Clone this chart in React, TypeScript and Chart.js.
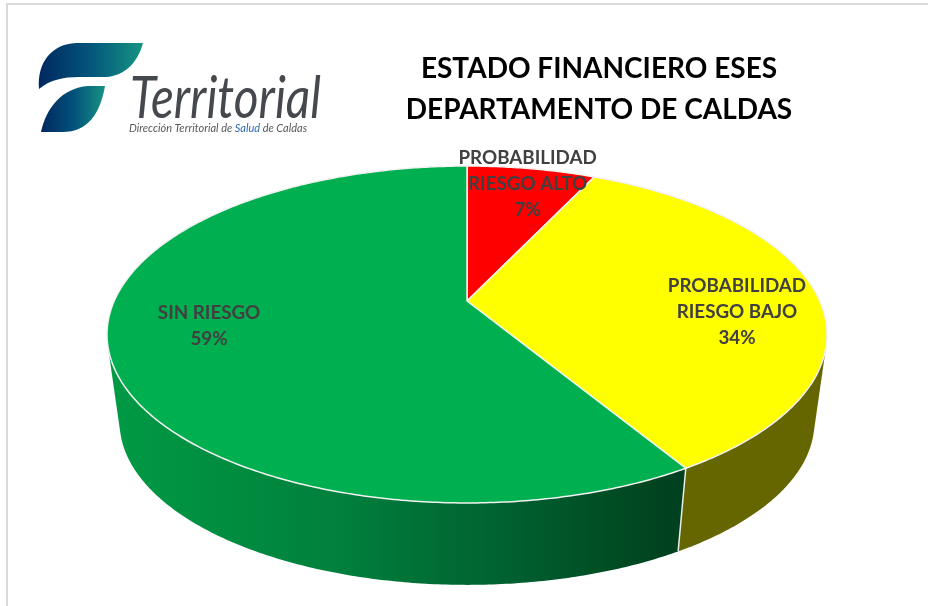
import React, { useEffect, useRef } from "react";
import { Chart, registerables } from "chart.js";

Chart.register(...registerables);

const categories = ["PROBABILIDAD RIESGO ALTO", "PROBABILIDAD RIESGO BAJO", "SIN RIESGO"];
const shares = [7, 34.4, 58.6];
const topColors = ["#FF0000", "#FFFF00", "#00B050"];
const labelLines = [["PROBABILIDAD", "RIESGO ALTO"], ["PROBABILIDAD", "RIESGO BAJO"], ["SIN RIESGO"]];
const labelRadius = [0.93, 0.775, 0.732];
const labelNudge = [[0, 7], [-1, 17], [1, -8]];
const titleLines = ["ESTADO FINANCIERO ESES", "DEPARTAMENTO DE CALDAS"];

const font = "Lato, Carlito, 'Open Sans', sans-serif";
const persp = { cx: 467, cy: 301, A: 161.8, B: 352.8, k: 0.1988, s: 0.965, lowY: 390 };

function project(a: number, r = 1, lower = false) {
  const u = Math.cos(a) * r;
  const v = Math.sin(a) * r;
  const w = 1 - persp.k * v;
  const s = lower ? persp.s : 1;
  const y0 = lower ? persp.lowY : persp.cy;
  return { x: persp.cx + (s * persp.B * u) / w, y: y0 + (s * persp.A * v) / w };
}

function rimPoints(start: number, end: number, lower = false) {
  const n = Math.max(2, Math.ceil((end - start) / 0.01));
  const pts = [];
  for (let i = 0; i <= n; i++) pts.push(project(start + ((end - start) * i) / n, 1, lower));
  return pts;
}

function wallFill(ctx: CanvasRenderingContext2D, index: number) {
  if (index === 0) return "#660000";
  if (index === 1) return "#666600";
  const g = ctx.createLinearGradient(110, 0, 680, 0);
  g.addColorStop(0, "#009A44");
  g.addColorStop(0.4, "#00803C");
  g.addColorStop(0.7, "#006030");
  g.addColorStop(0.9, "#004A22");
  g.addColorStop(1, "#004020");
  return g;
}

const perspectivePie = {
  id: "perspectivePie",
  afterLayout(chart: any) {
    const tb = chart.titleBlock;
    if (tb) {
      tb.left = 300;
      tb.right = 898;
    }
  },
  beforeDraw(chart: any) {
    const ctx: CanvasRenderingContext2D = chart.ctx;
    ctx.save();
    const grad = ctx.createLinearGradient(38, 0, 143, 0);
    grad.addColorStop(0, "#00285F");
    grad.addColorStop(0.45, "#02507A");
    grad.addColorStop(1, "#169383");
    ctx.fillStyle = grad;
    ctx.beginPath();
    ctx.moveTo(143, 43);
    ctx.lineTo(76, 43);
    ctx.bezierCurveTo(52, 44, 37, 62, 39, 89);
    ctx.bezierCurveTo(50, 80, 62, 77, 80, 77);
    ctx.lineTo(106, 77);
    ctx.bezierCurveTo(125, 76, 138, 62, 143, 43);
    ctx.closePath();
    ctx.fill();
    const grad2 = ctx.createLinearGradient(41, 0, 105, 0);
    grad2.addColorStop(0, "#00285F");
    grad2.addColorStop(0.5, "#02507A");
    grad2.addColorStop(1, "#169383");
    ctx.fillStyle = grad2;
    ctx.beginPath();
    ctx.moveTo(105, 86);
    ctx.lineTo(88, 86);
    ctx.bezierCurveTo(62, 88, 46, 108, 41, 132);
    ctx.lineTo(62, 132);
    ctx.bezierCurveTo(88, 132, 100, 114, 105, 86);
    ctx.closePath();
    ctx.fill();

    ctx.textBaseline = "alphabetic";
    ctx.textAlign = "left";
    ctx.fillStyle = "#45484C";
    ctx.font = `italic 400 58px ${font}`;
    ctx.fillText("Territorial", 130, 118, 191);
    ctx.font = `italic 400 11px ${font}`;
    const parts: [string, string][] = [
      ["Dirección Territorial de ", "#55585C"],
      ["Salud", "#2B6CB5"],
      [" de Caldas", "#55585C"],
    ];
    let x = 129;
    for (const [t, c] of parts) {
      ctx.fillStyle = c;
      ctx.fillText(t, x, 132);
      x += ctx.measureText(t).width;
    }
    ctx.restore();
  },
  beforeDatasetsDraw(chart: any) {
    const ctx: CanvasRenderingContext2D = chart.ctx;
    const arcs = chart.getDatasetMeta(0).data;
    ctx.save();
    arcs.forEach((arc: any, i: number) => {
      const top = rimPoints(arc.startAngle, arc.endAngle);
      const low = rimPoints(arc.startAngle, arc.endAngle, true);
      ctx.beginPath();
      for (let j = 0; j + 1 < top.length; j++) {
        let quad = [top[j], top[j + 1], low[j + 1], low[j]];
        let area = 0;
        quad.forEach((p, q) => {
          const n = quad[(q + 1) % 4];
          area += p.x * n.y - n.x * p.y;
        });
        if (area < 0) quad = quad.reverse();
        quad.forEach((p, q) => (q ? ctx.lineTo(p.x, p.y) : ctx.moveTo(p.x, p.y)));
        ctx.closePath();
      }
      ctx.fillStyle = wallFill(ctx, i);
      ctx.fill();
    });
    arcs.forEach((arc: any) => {
      const a = project(arc.startAngle);
      const b = project(arc.startAngle, 1, true);
      ctx.beginPath();
      ctx.moveTo(a.x, a.y);
      ctx.lineTo(b.x, b.y);
      ctx.strokeStyle = "#E8EDE8";
      ctx.lineWidth = 1.5;
      ctx.stroke();
    });
    arcs.forEach((arc: any) => {
      ctx.beginPath();
      ctx.moveTo(persp.cx, persp.cy);
      rimPoints(arc.startAngle, arc.endAngle).forEach((p) => ctx.lineTo(p.x, p.y));
      ctx.closePath();
      ctx.fillStyle = arc.options.backgroundColor;
      ctx.fill();
      ctx.strokeStyle = arc.options.borderColor;
      ctx.lineWidth = arc.options.borderWidth;
      ctx.stroke();
    });
    ctx.restore();
    return false;
  },
  afterDraw(chart: any) {
    const ctx: CanvasRenderingContext2D = chart.ctx;
    const arcs = chart.getDatasetMeta(0).data;
    ctx.save();
    ctx.textAlign = "center";
    ctx.textBaseline = "middle";
    ctx.fillStyle = "#404040";
    ctx.font = `700 18.8px ${font}`;
    arcs.forEach((arc: any, i: number) => {
      const p = project((arc.startAngle + arc.endAngle) / 2, labelRadius[i]);
      const lines = [...labelLines[i], `${Math.round(shares[i])}%`];
      const x = p.x + labelNudge[i][0];
      const y0 = p.y + labelNudge[i][1] - ((lines.length - 1) * 26) / 2;
      lines.forEach((t, j) => ctx.fillText(t, x, y0 + j * 26));
    });
    ctx.restore();
  },
};

export default function App() {
  const ref = useRef<HTMLCanvasElement>(null);
  useEffect(() => {
    const chart = new Chart(ref.current as HTMLCanvasElement, {
      type: "pie",
      data: {
        labels: categories,
        datasets: [
          {
            data: shares,
            backgroundColor: topColors,
            borderColor: "#F2F2F2",
            borderWidth: 1.5,
          },
        ],
      },
      options: {
        responsive: false,
        animation: false,
        layout: { padding: 0 },
        plugins: {
          legend: { display: false },
          tooltip: { enabled: false },
          title: {
            display: true,
            text: titleLines,
            color: "#000000",
            font: { family: font, size: 28, weight: "bold", lineHeight: 41 / 28 },
            padding: { top: 48, bottom: 0 },
          },
        },
      },
      plugins: [perspectivePie],
    } as any);
    return () => chart.destroy();
  }, []);
  return (
    <div style={{ position: "absolute", left: 0, top: 0, width: 928, height: 606, background: "#fff", overflow: "hidden" }}>
      <canvas ref={ref} width={928} height={606} style={{ display: "block" }} />
      <div style={{ position: "absolute", left: 6, top: 3, right: 0, height: 2, background: "#D9D9D9" }} />
      <div style={{ position: "absolute", left: 6, top: 3, bottom: 0, width: 2, background: "#D9D9D9" }} />
    </div>
  );
}
